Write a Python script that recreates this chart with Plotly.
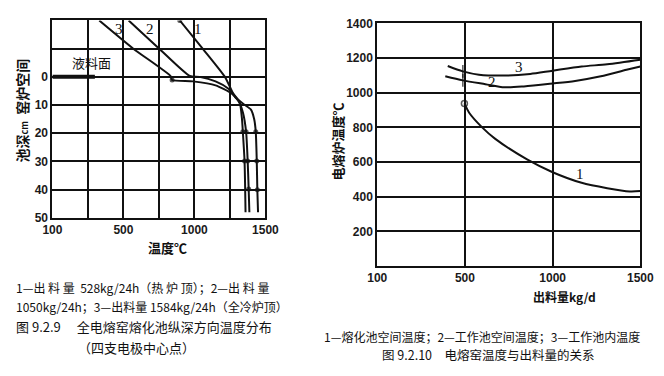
import plotly.graph_objects as go

# ---------------- Left chart data (Fig 9.2.9) ----------------
# x is plotted on a 0..1500 linear scale, gridlines every 250 (first tick printed as "100")
c1_temp = [897, 1058, 1217, 1285, 1353, 1398, 1421, 1432, 1439, 1443, 1448]
c1_depth = [-20, -10, 0.2, 7, 9.9, 11.6, 15, 19.5, 29.8, 40, 48]
c1_dots = [1, 0, 0, 0, 0, 0, 0, 1, 1, 1, 0]

c2_temp = [537, 752, 968, 1036, 1149, 1240, 1308, 1342, 1364, 1375, 1382, 1387]
c2_depth = [-20, -10, -0.3, 0, 1.6, 4.2, 8.2, 12.7, 19.5, 29.8, 39.8, 48]
c2_dots = [0, 0, 0, 0, 0, 0, 0, 0, 1, 1, 1, 0]

c3_temp = [330, 570, 832, 843, 990, 1149, 1262, 1319, 1335, 1341, 1353, 1360]
c3_depth = [-20, -10, -0.3, 1.1, 1.6, 3, 5.9, 9.3, 15, 19.5, 29.8, 48]
c3_dots = [0, 0, 0, 1, 0, 0, 0, 0, 0, 1, 1, 0]

melt_x = [0, 299]
melt_y = [0, 0]

left_xticks = [0, 250, 500, 750, 1000, 1250, 1500]
left_xticktext = ["100", "", "500", "", "1000", "", "1500"]
left_yticks = [-20, -10, 0, 10, 20, 30, 40, 50]
left_yticktext = ["", "", "0", "10", "20", "30", "40", "50"]

# ---------------- Right chart data (Fig 9.2.10) ----------------
r3_x = [402, 488, 580, 744, 872, 1000, 1165, 1311, 1500]
r3_y = [1154, 1123, 1104, 1099, 1108, 1127, 1151, 1164, 1190]
r3_tick = [0, 1, 0, 0, 0, 1, 0, 0, 0]

r2_x = [388, 488, 616, 726, 836, 1000, 1128, 1275, 1421, 1500]
r2_y = [1095, 1071, 1049, 1031, 1036, 1053, 1068, 1095, 1132, 1151]
r2_tick = [0, 1, 0, 0, 0, 1, 0, 0, 0, 0]

r1_x = [497, 525, 598, 671, 854, 1000, 1165, 1311, 1439, 1500]
r1_y = [938, 883, 800, 735, 615, 541, 480, 449, 430, 432]

right_xticks = [0, 500, 1000, 1500]
right_xticktext = ["100", "500", "1000", "1500"]
right_yticks = [0, 200, 400, 600, 800, 1000, 1200, 1400]
right_yticktext = ["", "200", "400", "600", "800", "1000", "1200", "1400"]

W, H = 664, 376
def px(x): return x / W
def py(y): return 1 - y / H

CJK = "Noto Sans CJK SC"
TICKF = dict(family="Liberation Sans", size=12, color="#1a1a1a", weight="bold")
LINE = "#111"

fig = go.Figure()

def left_curve(xs, ys, dots):
    fig.add_trace(go.Scatter(
        x=xs, y=ys, mode="lines+markers", xaxis="x", yaxis="y",
        line=dict(color=LINE, width=2, shape="spline", smoothing=0.6),
        marker=dict(size=[5 if d else 0 for d in dots], color=LINE, line=dict(width=0)),
        showlegend=False, hoverinfo="skip"))

left_curve(c1_temp, c1_depth, c1_dots)
left_curve(c2_temp, c2_depth, c2_dots)
left_curve(c3_temp, c3_depth, c3_dots)
fig.add_trace(go.Scatter(x=melt_x, y=melt_y, mode="lines", xaxis="x", yaxis="y",
                         line=dict(color=LINE, width=4), showlegend=False, hoverinfo="skip"))

def right_curve(xs, ys, ticks, start_circle=False):
    sizes = [9 if t else 0 for t in ticks]
    symbols = ["line-ns" for _ in ticks]
    if start_circle:
        sizes[0] = 6
        symbols[0] = "circle-open"
    fig.add_trace(go.Scatter(
        x=xs, y=ys, mode="lines+markers", xaxis="x2", yaxis="y2",
        line=dict(color=LINE, width=2, shape="spline", smoothing=0.8),
        marker=dict(size=sizes, symbol=symbols, color=LINE, line=dict(color=LINE, width=1.5)),
        showlegend=False, hoverinfo="skip", cliponaxis=False))

right_curve(r3_x, r3_y, r3_tick)
right_curve(r2_x, r2_y, r2_tick)
right_curve(r1_x, r1_y, [0] * len(r1_x), start_circle=True)

axis_common = dict(showgrid=True, gridcolor=LINE, gridwidth=2, showline=True,
                   linecolor=LINE, linewidth=2, mirror=True, ticks="",
                   zeroline=False, tickfont=TICKF, fixedrange=True)

fig.update_layout(
    width=W, height=H, margin=dict(l=0, r=0, t=0, b=0),
    paper_bgcolor="white", plot_bgcolor="white",
    xaxis=dict(domain=[px(44), px(265)], range=[0, 1500], tickvals=left_xticks,
               ticktext=left_xticktext, anchor="y", **axis_common),
    yaxis=dict(domain=[py(219), py(14)], range=[50, -20], tickvals=left_yticks,
               ticktext=left_yticktext, anchor="x", **axis_common),
    xaxis2=dict(domain=[px(381), px(654)], range=[0, 1500], tickvals=right_xticks,
                ticktext=right_xticktext, anchor="y2", **axis_common),
    yaxis2=dict(domain=[py(269), py(17)], range=[0, 1400], tickvals=right_yticks,
                ticktext=right_yticktext, anchor="x2", **axis_common),
)

def ann(text, x, y, size=12, xanchor="center", angle=0, ref="paper", xa="x", ya="y", bold=False, family=CJK):
    if bold:
        text = "<b>" + text + "</b>"
    d = dict(text=text, showarrow=False, font=dict(family=family, size=size, color="#111"),
             xanchor=xanchor, yanchor="middle", textangle=angle)
    if ref == "paper":
        d.update(x=px(x), y=py(y), xref="paper", yref="paper")
    else:
        d.update(x=x, y=y, xref=xa, yref=ya)
    fig.add_annotation(**d)

SERIF = "Liberation Serif"
# left chart labels
ann("3", 470, -17, size=15, ref="data", family=SERIF)
ann("2", 690, -17, size=15, ref="data", family=SERIF)
ann("1", 1028, -17, size=15, ref="data", family=SERIF)
ann("液料面", 85, 58, size=13)
ann("池深<span style='font-size:9px'>cm</span>  窑炉空间", 12, 108, size=14, angle=-90, bold=True)
ann("温度℃", 163, 250, size=13, bold=True)

ann("1—出 料 量  528kg/24h（热 炉 顶）；2—出 料 量", 4, 291, size=12, xanchor="left")
ann("1050kg/24h；3—出料量 1584kg/24h（全冷炉顶）", 4, 311, size=12, xanchor="left")
ann("图 9.2.9　 全电熔窑熔化池纵深方向温度分布", 4, 332, size=13, xanchor="left")
ann("（四支电极中心点）", 68, 354, size=13, xanchor="left")

# right chart labels
ann("3", 808, 1151, size=15, ref="data", xa="x2", ya="y2", family=SERIF)
ann("2", 653, 1064, size=15, ref="data", xa="x2", ya="y2", family=SERIF)
ann("1", 1156, 532, size=15, ref="data", xa="x2", ya="y2", family=SERIF)
ann("电熔炉温度℃", 340, 140, size=13, angle=-90, bold=True)
ann("出料量kg/d", 575, 301, size=12, bold=True)
ann("1—熔化池空间温度；2—工作池空间温度；3—工作池内温度", 490, 342, size=12)
ann("图 9.2.10　电熔窑温度与出料量的关系", 496, 361, size=12.5)

fig.write_html("out.html", config={"displayModeBar": False, "responsive": False},
               post_script="document.body.style.margin='0';document.body.style.overflow='hidden';")
